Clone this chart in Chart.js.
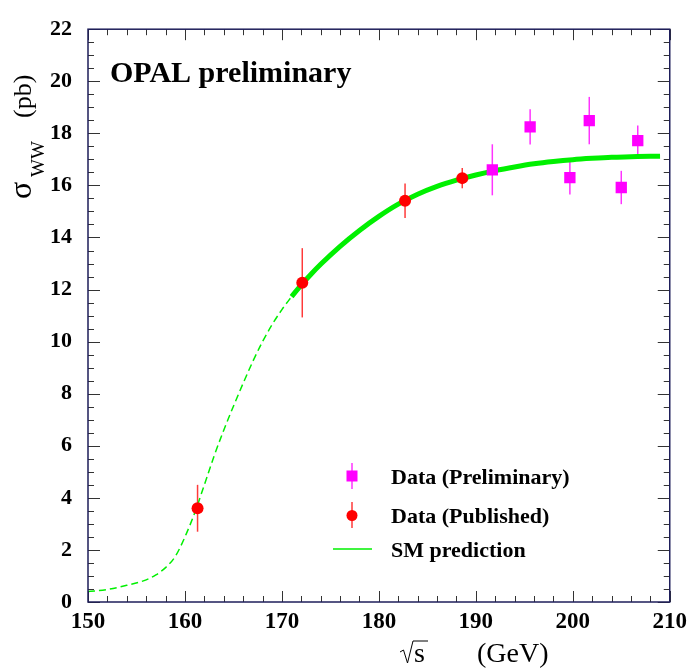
<!DOCTYPE html>
<html>
<head>
<meta charset="utf-8">
<script src="https://cdn.jsdelivr.net/npm/chart.js@4.4.0/dist/chart.umd.min.js"></script>
<style>
  html, body { margin: 0; padding: 0; background: #fff; }
  #wrap { width: 693px; height: 671px; }
</style>
</head>
<body>
<div id="wrap"><canvas id="c" width="693" height="671"></canvas></div>
<script>
// Centre-of-mass energies (GeV), cross sections and errors (pb)
const publishedEnergy = [161.3, 172.1, 182.7, 188.6];
const publishedXsec   = [3.6, 12.26, 15.41, 16.28];
const publishedErr    = [0.9, 1.33, 0.66, 0.39];

const prelimEnergy = [191.7, 195.6, 199.7, 201.7, 205.0, 206.7];
const prelimXsec   = [16.6, 18.25, 16.3, 18.49, 15.92, 17.72];
const prelimErr    = [0.98, 0.68, 0.65, 0.91, 0.64, 0.58];

// Standard Model prediction sampled along sqrt(s)
const smEnergy = [150, 152, 154, 156, 157, 158, 159, 160, 161, 162, 163, 164, 165, 166, 167, 168, 169, 170, 171,
                  172, 173, 174, 176, 178, 180, 182, 184, 186, 188, 190, 192, 194, 196, 198, 200, 202, 204, 206, 208, 209];
const smXsec   = [0.40, 0.48, 0.64, 0.85, 1.04, 1.32, 1.75, 2.50, 3.42, 4.50, 5.60, 6.60, 7.52, 8.40, 9.24, 10.00, 10.66, 11.23, 11.73,
                  12.18, 12.59, 12.97, 13.66, 14.27, 14.81, 15.28, 15.66, 15.96, 16.20, 16.40, 16.57, 16.71, 16.83, 16.92, 16.99, 17.04, 17.08, 17.10, 17.12, 17.125];
const smSolidFrom = 171; // below this energy the prediction is drawn dashed

// Axis tick labels
const xTickValues = [150, 160, 170, 180, 190, 200, 210];
const yTickValues = [0, 2, 4, 6, 8, 10, 12, 14, 16, 18, 20, 22];

const serif = "'Liberation Serif', 'Times New Roman', serif";

const smPoints = smEnergy.map((e, i) => ({ x: e, y: smXsec[i] }));
const smDashed = smPoints.filter(p => p.x <= smSolidFrom);
const smSolid  = smPoints.filter(p => p.x >= smSolidFrom);

// vertical error bars for datasets carrying an `errors` array
const errorBars = {
  id: 'errorBars',
  beforeDatasetsDraw(chart) {
    const { ctx, scales: { x, y } } = chart;
    ctx.save();
    chart.data.datasets.forEach(ds => {
      if (!ds.errors) return;
      ctx.strokeStyle = ds.errorColor;
      ctx.lineWidth = 1.5;
      ds.data.forEach((p, i) => {
        const px = x.getPixelForValue(p.x);
        ctx.beginPath();
        ctx.moveTo(px, y.getPixelForValue(p.y - ds.errors[i]));
        ctx.lineTo(px, y.getPixelForValue(p.y + ds.errors[i]));
        ctx.stroke();
      });
    });
    ctx.restore();
  }
};

// frame with inward major/minor ticks on all four sides
const frameTicks = {
  id: 'frameTicks',
  afterDatasetsDraw(chart) {
    const { ctx, chartArea: a, scales: { x, y } } = chart;
    ctx.save();
    ctx.strokeStyle = '#333';
    ctx.lineWidth = 1;
    const seg = (x1, y1, x2, y2) => { ctx.beginPath(); ctx.moveTo(x1, y1); ctx.lineTo(x2, y2); ctx.stroke(); };
    for (let i = 0; i <= 30; i++) {
      const px = Math.round(x.getPixelForValue(150 + 2 * i)) + 0.5;
      const len = i % 5 === 0 ? 11 : 6;
      seg(px, a.bottom, px, a.bottom - len);
      seg(px, a.top, px, a.top + len);
    }
    for (let i = 0; i <= 44; i++) {
      const py = Math.round(y.getPixelForValue(0.5 * i)) + 0.5;
      const len = i % 4 === 0 ? 12 : 6;
      seg(a.left, py, a.left + len, py);
      seg(a.right, py, a.right - len, py);
    }
    ctx.strokeStyle = '#1e1e5a';
    ctx.lineWidth = 1.5;
    ctx.strokeRect(a.left, a.top, a.right - a.left, a.bottom - a.top);
    ctx.restore();
  }
};

// experiment label, legend and axis titles
const annotations = {
  id: 'annotations',
  afterDraw(chart) {
    const { ctx, chartArea: a, data } = chart;
    ctx.save();
    ctx.fillStyle = '#000';
    ctx.textBaseline = 'alphabetic';
    ctx.textAlign = 'left';

    ctx.font = `bold 30px ${serif}`;
    ctx.fillText('OPAL preliminary', a.left + 22, 82);

    // legend
    const [ , , pubDs, preDs] = data.datasets;
    const mx = 352, tx = 391;
    ctx.font = `bold 22px ${serif}`;
    // preliminary
    ctx.strokeStyle = preDs.errorColor; ctx.lineWidth = 1.5;
    ctx.beginPath(); ctx.moveTo(mx, 463); ctx.lineTo(mx, 489); ctx.stroke();
    ctx.fillStyle = preDs.backgroundColor;
    ctx.fillRect(mx - 5.5, 476 - 5.5, 11, 11);
    ctx.fillStyle = '#000';
    ctx.fillText(preDs.label, tx, 484);
    // published
    ctx.strokeStyle = pubDs.errorColor;
    ctx.beginPath(); ctx.moveTo(mx, 502); ctx.lineTo(mx, 528); ctx.stroke();
    ctx.fillStyle = pubDs.backgroundColor;
    ctx.beginPath(); ctx.arc(mx, 515.5, 5.5, 0, Math.PI * 2); ctx.fill();
    ctx.fillStyle = '#000';
    ctx.fillText(pubDs.label, tx, 523);
    // SM
    ctx.strokeStyle = '#00f000'; ctx.lineWidth = 1.5;
    ctx.beginPath(); ctx.moveTo(333, 549); ctx.lineTo(372, 549); ctx.stroke();
    ctx.fillText(data.datasets[1].label, tx, 557);

    // x title: sqrt(s) (GeV)
    ctx.font = `28px ${serif}`;
    ctx.fillText('s', 414, 662);
    ctx.fillText('(GeV)', 477, 662);
    ctx.strokeStyle = '#000'; ctx.lineWidth = 1;
    ctx.beginPath();
    ctx.moveTo(400, 652); ctx.lineTo(403.5, 650); ctx.lineTo(407.5, 663);
    ctx.lineTo(413, 641); ctx.lineTo(428, 641);
    ctx.stroke();

    // y title: sigma_WW (pb)
    ctx.rotate(-Math.PI / 2);
    ctx.font = `32px ${serif}`;
    ctx.fillText('σ', -199, 31);
    ctx.font = `19px ${serif}`;
    ctx.fillText('WW', -177, 44);
    ctx.font = `26px ${serif}`;
    ctx.fillText('(pb)', -118, 31);
    ctx.restore();
  }
};

new Chart(document.getElementById('c'), {
  type: 'scatter',
  data: {
    datasets: [
      {
        label: 'SM prediction (low energy)',
        data: smDashed, showLine: true, borderColor: '#00f000', borderWidth: 1.5,
        borderDash: [7, 4], pointRadius: 0, cubicInterpolationMode: 'monotone', order: 3
      },
      {
        label: 'SM prediction',
        data: smSolid, showLine: true, borderColor: '#00f000', borderWidth: 5,
        pointRadius: 0, cubicInterpolationMode: 'monotone', order: 2
      },
      {
        label: 'Data (Published)',
        data: publishedEnergy.map((e, i) => ({ x: e, y: publishedXsec[i] })),
        errors: publishedErr, errorColor: '#ff3a3a',
        pointStyle: 'circle', pointRadius: 6, backgroundColor: '#ff0000', borderWidth: 0, order: 1
      },
      {
        label: 'Data (Preliminary)',
        data: prelimEnergy.map((e, i) => ({ x: e, y: prelimXsec[i] })),
        errors: prelimErr, errorColor: '#ff33ff',
        pointStyle: 'rect', pointRadius: 8, backgroundColor: '#ff00ff', borderWidth: 0, order: 0
      }
    ]
  },
  options: {
    responsive: false,
    animation: false,
    devicePixelRatio: 1,
    layout: { padding: { top: 17, right: 20, left: 0, bottom: 0 } },
    plugins: { legend: { display: false }, tooltip: { enabled: false } },
    scales: {
      x: {
        type: 'linear', min: 150, max: 210,
        grid: { display: false, drawTicks: false },
        border: { display: false },
        afterBuildTicks: s => { s.ticks = xTickValues.map(v => ({ value: v })); },
        afterFit: s => { s.height = 69; },
        ticks: { color: '#000', padding: 6, maxRotation: 0, font: { family: serif, size: 23, weight: 'bold' } }
      },
      y: {
        type: 'linear', min: 0, max: 22,
        grid: { display: false, drawTicks: false },
        border: { display: false },
        afterBuildTicks: s => { s.ticks = yTickValues.map(v => ({ value: v })); },
        afterFit: s => { s.width = 88; },
        ticks: { color: '#000', padding: 16, font: { family: serif, size: 22, weight: 'bold' } }
      }
    }
  },
  plugins: [errorBars, frameTicks, annotations]
});
</script>
</body>
</html>
